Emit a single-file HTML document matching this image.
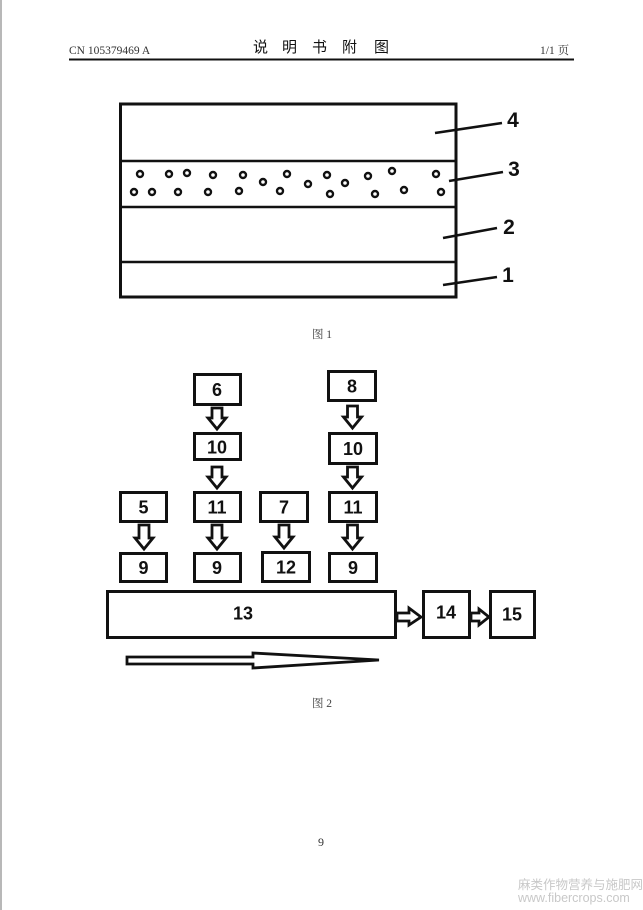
<!DOCTYPE html>
<html>
<head>
<meta charset="utf-8">
<style>
  html,body{margin:0;padding:0;background:#fff;}
  body{width:643px;height:910px;overflow:hidden;position:relative;}
  svg{position:absolute;left:0;top:0;}
</style>
</head>
<body>
<svg width="643" height="910" viewBox="0 0 643 910" xmlns="http://www.w3.org/2000/svg">
  <rect x="0" y="0" width="643" height="910" fill="#fff"/>
  <line x1="1" y1="0" x2="1" y2="910" stroke="#b8b8b8" stroke-width="2"/>

  <!-- Header -->
  <text x="69" y="54" font-family="'Liberation Serif','Noto Serif CJK SC',serif" font-size="11.5" fill="#333">CN 105379469 A</text>
  <g font-family="'Liberation Sans','Noto Sans CJK SC',sans-serif" font-size="15" fill="#111">
    <text x="253" y="52">说</text>
    <text x="282" y="52">明</text>
    <text x="312" y="52">书</text>
    <text x="342" y="52">附</text>
    <text x="374" y="52">图</text>
  </g>
  <text x="540" y="54" font-family="'Liberation Serif','Noto Serif CJK SC',serif" font-size="11.5" fill="#333">1/1 页</text>
  <line x1="69" y1="59.5" x2="574" y2="59.5" stroke="#111" stroke-width="2"/>

  <!-- Figure 1 -->
  <rect x="120.5" y="104" width="335.5" height="193" fill="none" stroke="#111" stroke-width="3"/>
  <line x1="120" y1="161" x2="456" y2="161" stroke="#111" stroke-width="2.5"/>
  <line x1="120" y1="207" x2="456" y2="207" stroke="#111" stroke-width="2.5"/>
  <line x1="120" y1="262" x2="456" y2="262" stroke="#111" stroke-width="2.5"/>
  <g fill="none" stroke="#111" stroke-width="2.4">
    <circle cx="140" cy="174" r="3"/>
    <circle cx="169" cy="174" r="3"/>
    <circle cx="187" cy="173" r="3"/>
    <circle cx="213" cy="175" r="3"/>
    <circle cx="243" cy="175" r="3"/>
    <circle cx="263" cy="182" r="3"/>
    <circle cx="287" cy="174" r="3"/>
    <circle cx="308" cy="184" r="3"/>
    <circle cx="327" cy="175" r="3"/>
    <circle cx="345" cy="183" r="3"/>
    <circle cx="368" cy="176" r="3"/>
    <circle cx="392" cy="171" r="3"/>
    <circle cx="436" cy="174" r="3"/>
    <circle cx="134" cy="192" r="3"/>
    <circle cx="152" cy="192" r="3"/>
    <circle cx="178" cy="192" r="3"/>
    <circle cx="208" cy="192" r="3"/>
    <circle cx="239" cy="191" r="3"/>
    <circle cx="280" cy="191" r="3"/>
    <circle cx="330" cy="194" r="3"/>
    <circle cx="375" cy="194" r="3"/>
    <circle cx="404" cy="190" r="3"/>
    <circle cx="441" cy="192" r="3"/>
  </g>
  <g stroke="#111" stroke-width="2.6">
    <line x1="435" y1="133" x2="502" y2="123"/>
    <line x1="449" y1="181" x2="503" y2="172"/>
    <line x1="443" y1="238" x2="497" y2="228"/>
    <line x1="443" y1="285" x2="497" y2="277"/>
  </g>
  <g font-family="'Liberation Sans',sans-serif" font-weight="bold" font-size="21" fill="#111" text-anchor="middle">
    <text x="513" y="127">4</text>
    <text x="514" y="176">3</text>
    <text x="509" y="234">2</text>
    <text x="508" y="282">1</text>
  </g>
  <text x="322" y="338" text-anchor="middle" font-family="'Liberation Serif','Noto Serif CJK SC',serif" font-size="11.5" fill="#444">图 1</text>

  <!-- Figure 2 boxes -->
  <g fill="#fff" stroke="#111" stroke-width="3">
    <rect x="194.5" y="374.5" width="46" height="30"/>
    <rect x="194.5" y="433.5" width="46" height="26"/>
    <rect x="194.5" y="492.5" width="46" height="29"/>
    <rect x="194.5" y="553.5" width="46" height="28"/>
    <rect x="120.5" y="492.5" width="46" height="29"/>
    <rect x="120.5" y="553.5" width="46" height="28"/>
    <rect x="260.5" y="492.5" width="47" height="29"/>
    <rect x="262.5" y="552.5" width="47" height="29"/>
    <rect x="328.5" y="371.5" width="47" height="29"/>
    <rect x="329.5" y="433.5" width="47" height="30"/>
    <rect x="329.5" y="492.5" width="47" height="29"/>
    <rect x="329.5" y="553.5" width="47" height="28"/>
    <rect x="107.5" y="591.5" width="288" height="46"/>
    <rect x="423.5" y="591.5" width="46" height="46"/>
    <rect x="490.5" y="591.5" width="44" height="46"/>
  </g>

  <!-- vertical hollow arrows -->
  <g fill="#fff" stroke="#111" stroke-width="2.8" stroke-linejoin="miter">
    <polygon points="139,525 149,525 149,538 153,538 144,549 135,538 139,538"/>
    <polygon points="212,408 222,408 222,418 226,418 217,429 208,418 212,418"/>
    <polygon points="212,467 222,467 222,477 226,477 217,488 208,477 212,477"/>
    <polygon points="212,525 222,525 222,538 226,538 217,549 208,538 212,538"/>
    <polygon points="279,525 289,525 289,537 293,537 284,548 275,537 279,537"/>
    <polygon points="347.5,406 357.5,406 357.5,417 361.5,417 352.5,428 343.5,417 347.5,417"/>
    <polygon points="347.5,467 357.5,467 357.5,477 361.5,477 352.5,488 343.5,477 347.5,477"/>
    <polygon points="347.5,525 357.5,525 357.5,538 361.5,538 352.5,549 343.5,538 347.5,538"/>
    <!-- horizontal -->
    <polygon points="397,613 409,613 409,608 421,617 409,625 409,621 397,621"/>
    <polygon points="471,613 479,613 479,609 489,617 479,625 479,621 471,621"/>
    <!-- long arrow -->
    <polygon points="127,657 253,657 253,653 379,660 253,668 253,664 127,664"/>
  </g>

  <!-- box labels -->
  <g font-family="'Liberation Sans',sans-serif" font-weight="bold" font-size="18" fill="#111" text-anchor="middle">
    <text x="217" y="396">6</text>
    <text x="217" y="453.5">10</text>
    <text x="217" y="513.5">11</text>
    <text x="217" y="574">9</text>
    <text x="143.5" y="513.5">5</text>
    <text x="143.5" y="574">9</text>
    <text x="284" y="513.5">7</text>
    <text x="286" y="573.5">12</text>
    <text x="352" y="392.5">8</text>
    <text x="353" y="455">10</text>
    <text x="353" y="513.5">11</text>
    <text x="353" y="574">9</text>
    <text x="243" y="619.5">13</text>
    <text x="446" y="618.5">14</text>
    <text x="512" y="620.5">15</text>
  </g>

  <text x="322" y="707" text-anchor="middle" font-family="'Liberation Serif','Noto Serif CJK SC',serif" font-size="11.5" fill="#444">图 2</text>

  <text x="321" y="846" text-anchor="middle" font-family="'Liberation Serif',serif" font-size="12" fill="#333">9</text>

  <!-- watermark -->
  <text x="518" y="889" font-family="'Liberation Sans','Noto Sans CJK SC',sans-serif" font-size="12.5" fill="#c8c8c8">麻类作物营养与施肥网</text>
  <text x="518" y="902" font-family="'Liberation Sans',sans-serif" font-size="12.5" fill="#c8c8c8">www.fibercrops.com</text>
</svg>
</body>
</html>
